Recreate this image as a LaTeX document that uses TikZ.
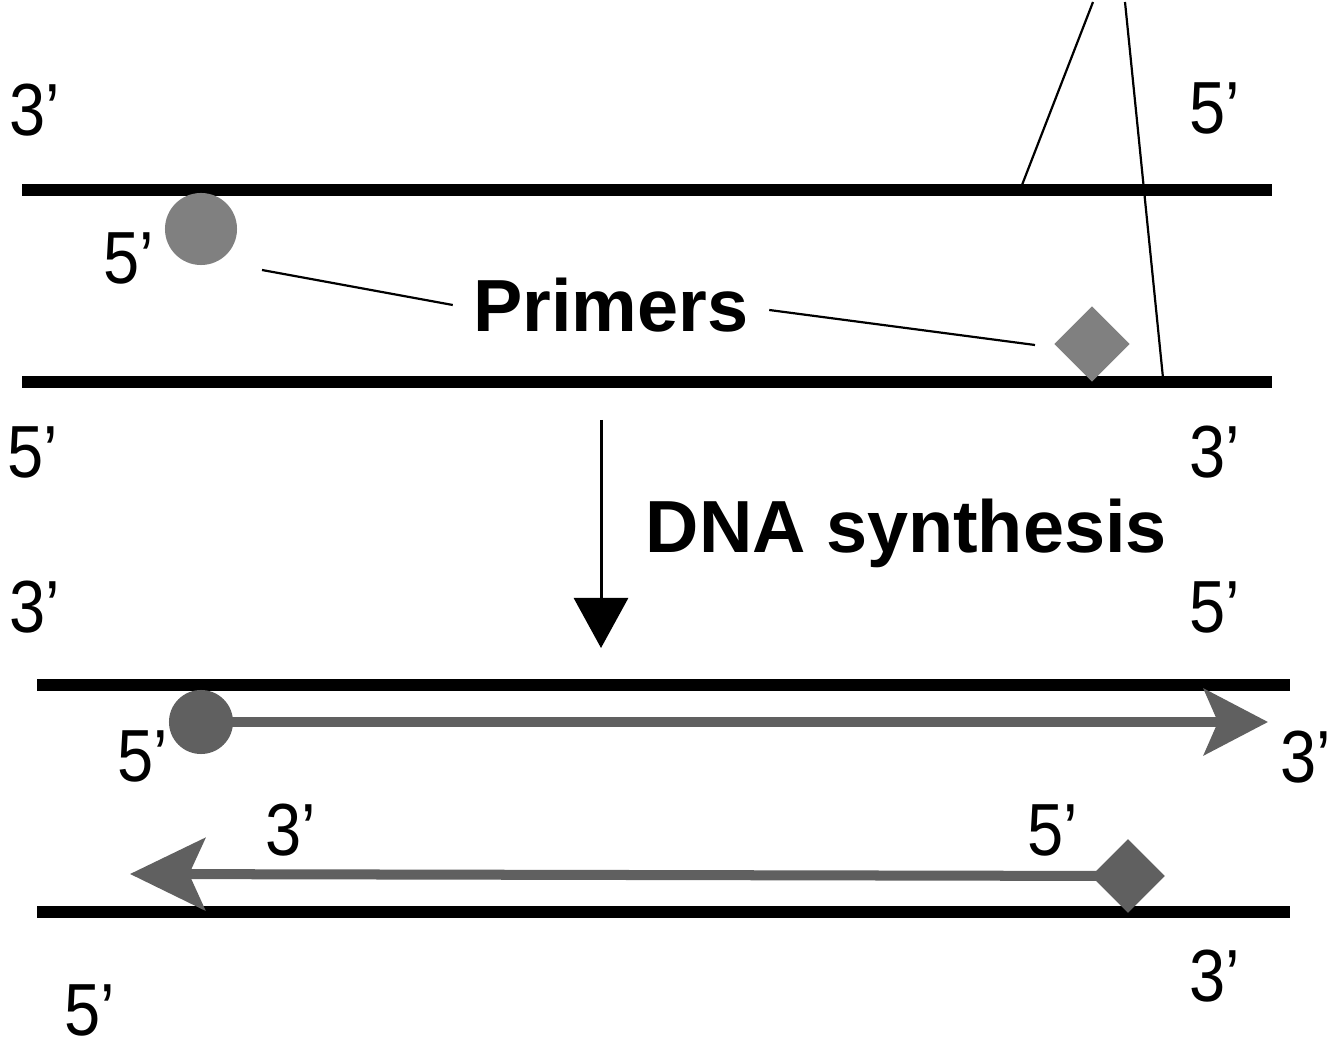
\documentclass[tikz,border=0pt]{standalone}
\usepackage{fontspec}
\setmainfont{Liberation Sans}
\usetikzlibrary{arrows.meta,shapes.geometric}
\definecolor{primgray}{RGB}{128,128,128}
\definecolor{darkprim}{RGB}{96,96,96}
\newcommand{\primetxt}[1]{\scalebox{0.88}[1]{#1}}
\begin{document}
\begin{tikzpicture}[x=0.01cm,y=-0.01cm,
  strand/.style={line width=0.12cm,black},
  endlbl/.style={inner sep=0pt,font=\fontsize{21}{21}\selectfont},
  boldlbl/.style={inner sep=0pt,font=\fontsize{21}{21}\selectfont\bfseries},
  leader/.style={line width=0.022cm,black},
  newstrand/.style={line width=0.1cm,darkprim},
  primcirc/.style={circle,inner sep=0pt,minimum size=0.72cm,fill=primgray},
  primdiam/.style={diamond,inner sep=0pt,minimum size=0.76cm,fill=primgray},
  darkcirc/.style={circle,inner sep=0pt,minimum size=0.64cm,fill=darkprim},
  darkdiam/.style={diamond,inner sep=0pt,minimum size=0.74cm,fill=darkprim}]
\useasboundingbox (0,0) rectangle (1330,1049);
\fill[white] (0,0) rectangle (1330,1049);

% ---------- top: template strands with primers ----------
\coordinate (s1a) at (22,190);
\coordinate (s1b) at (1272,190);
\coordinate (s2a) at (22,382);
\coordinate (s2b) at (1272,382);
\draw[strand] (s1a) -- (s1b);
\draw[strand] (s2a) -- (s2b);

\node[primcirc] (pc) at (201,229) {};
\node[primdiam] (pd) at (1092,344) {};

\node[endlbl] (l1) at (35,110) {\primetxt{3’}};
\node[endlbl] (l2) at (1215,108) {\primetxt{5’}};
\node[endlbl] (l3) at (129,258) {\primetxt{5’}};
\node[endlbl] (l4) at (33,452) {\primetxt{5’}};
\node[endlbl] (l5) at (1215,452) {\primetxt{3’}};

\node[boldlbl] (prim) at (611,305) {Primers};
\coordinate (pcl) at (262,270);
\coordinate (pdl) at (1035,345);
\draw[leader] (prim.west) ++(-20,0) coordinate (pw) -- (pcl);
\draw[leader] (prim.east) ++(20,5) coordinate (pe) -- (pdl);

% the two lines at top right
\coordinate (t1a) at (1022,185);
\coordinate (t1b) at (1093,2);
\coordinate (t2a) at (1125,2);
\coordinate (t2b) at (1163,378);
\draw[leader] (t1a) -- (t1b);
\draw[leader] (t2a) -- (t2b);

% ---------- synthesis arrow ----------
\coordinate (ar1) at (601,420);
\coordinate (ar2) at (601,648);
\draw[line width=0.03cm,-{Triangle[length=0.5cm,width=0.54cm]}] (ar1) -- (ar2);
\node[boldlbl,anchor=base west] (syn) at (645,553) {DNA synthesis};

% ---------- bottom: extended strands ----------
\node[endlbl] (l6) at (35,607) {\primetxt{3’}};
\node[endlbl] (l7) at (1215,607) {\primetxt{5’}};

\coordinate (s3a) at (37,685);
\coordinate (s3b) at (1290,685);
\coordinate (s4a) at (37,912);
\coordinate (s4b) at (1290,912);
\draw[strand] (s3a) -- (s3b);
\draw[strand] (s4a) -- (s4b);

\node[darkcirc] (bc) at (201,722) {};
\coordinate (bct) at (1268,722);
\draw[newstrand,-{Stealth[length=0.64cm,width=0.66cm,inset=0.14cm]}] (bc.center) -- (bct);

\node[darkdiam] (bd) at (1128,876) {};
\coordinate (bdt) at (130,874);
\draw[newstrand,-{Stealth[length=0.75cm,width=0.72cm,inset=0.16cm]}] (bd.center) -- (bdt);
\node[darkdiam] at (bd.center) {};

\node[endlbl] (l8) at (143,756) {\primetxt{5’}};
\node[endlbl] (l9) at (1306,757) {\primetxt{3’}};
\node[endlbl] (l10) at (291,830) {\primetxt{3’}};
\node[endlbl] (l11) at (1053,830) {\primetxt{5’}};
\node[endlbl] (l12) at (1215,976) {\primetxt{3’}};
\node[endlbl] (l13) at (90,1010) {\primetxt{5’}};
\end{tikzpicture}
\end{document}
